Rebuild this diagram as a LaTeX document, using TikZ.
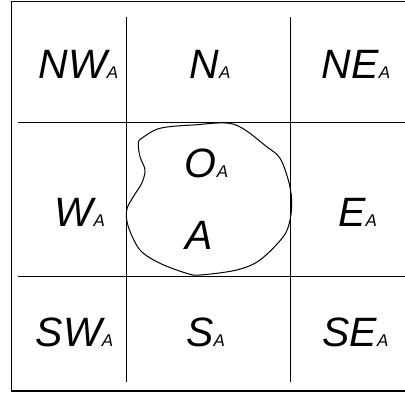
\documentclass[tikz,border=0pt]{standalone}
\usepackage{fontspec}
\setmainfont{Liberation Sans}
\usepackage{tikz}
\usetikzlibrary{positioning,calc}

\newcommand{\regname}[2]{#1{\fontsize{17}{17}\selectfont #2}}

\begin{document}
\begin{tikzpicture}[x=1pt,y=-1pt,
  frame/.style={line width=1.5pt},
  grid/.style={line width=0.9pt},
  blob/.style={line width=1pt},
  lbl/.style={anchor=base, inner sep=0pt, font=\fontsize{41}{41}\selectfont\itshape}
]
\useasboundingbox (0,0) rectangle (405,396);
% outer frame (right side lies past the edge)
\draw[frame] (412,1.5) -- (11.5,1.5) -- (11.5,391) -- (412,391);
% grid lines
\draw[grid] (126.7,17) -- (126.7,382);
\draw[grid] (290.7,17) -- (290.7,382);
\draw[grid] (17.7,122.7) -- (410,122.7);
\draw[grid] (17.7,276) -- (410,276);
% region A
\draw[blob] plot[smooth cycle, tension=0.55] coordinates {
  (141.7,138.3) (160,128.3) (193.3,125) (234,124.3) (266.7,146.7)
  (280,158.3) (288.3,180) (291.7,200) (290,220) (283.3,236.7)
  (260,260) (236.7,270) (200,275) (186.7,273.3) (160,263.3)
  (140,250) (128.3,226.7) (126.7,210) (133.3,196.7) (141.7,183.3)
  (145,170) (140,156.7) (138.3,143.3)};
% labels
\node[lbl] (nw) at (78.5,79) {\regname{NW}{A}};
\node[lbl] (n) at (210,79) {\regname{N}{A}};
\node[lbl] (ne) at (356,79) {\regname{NE}{A}};
\node[lbl] (w) at (80,226) {\regname{W}{A}};
\node[lbl] (o) at (206.5,178) {\regname{O}{A}};
\node[lbl] (a) at (199.5,249) {A};
\node[lbl] (e) at (357.5,226) {\regname{E}{A}};
\node[lbl] (sw) at (74.5,346) {\regname{SW}{A}};
\node[lbl] (s) at (205.5,346) {\regname{S}{A}};
\node[lbl] (se) at (355.5,346) {\regname{SE}{A}};
\end{tikzpicture}
\end{document}
